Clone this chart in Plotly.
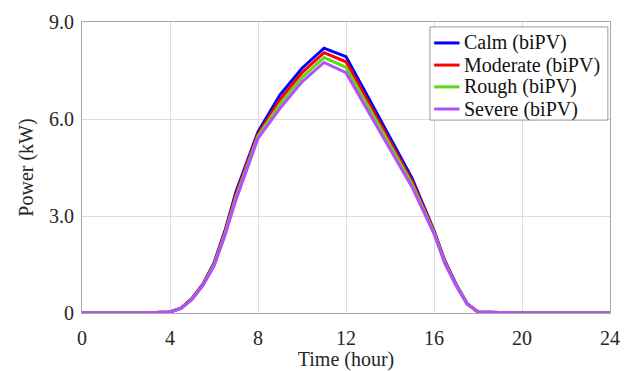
import plotly.graph_objects as go

time_h = [0, 1, 2, 3, 4, 4.5, 5, 5.5, 6, 6.5, 7, 8, 9, 10, 11, 12, 13, 14, 15, 16, 16.5, 17, 17.5, 18, 19, 20, 21, 22, 23, 24]

calm     = [0, 0, 0, 0.01, 0.03, 0.15, 0.45, 0.9, 1.55, 2.55, 3.75, 5.6, 6.75, 7.57, 8.19, 7.93, 6.68, 5.42, 4.17, 2.55, 1.6, 0.9, 0.3, 0.03, 0.01, 0, 0, 0, 0, 0]
moderate = [0, 0, 0, 0.01, 0.03, 0.15, 0.44, 0.88, 1.52, 2.5, 3.67, 5.53, 6.6, 7.43, 8.05, 7.77, 6.54, 5.31, 4.08, 2.52, 1.57, 0.88, 0.29, 0.03, 0.01, 0, 0, 0, 0, 0]
rough    = [0, 0, 0, 0.01, 0.03, 0.14, 0.43, 0.87, 1.49, 2.45, 3.59, 5.47, 6.47, 7.29, 7.9, 7.6, 6.4, 5.2, 3.99, 2.49, 1.55, 0.87, 0.29, 0.03, 0.01, 0, 0, 0, 0, 0]
severe   = [0, 0, 0, 0.01, 0.03, 0.14, 0.42, 0.85, 1.45, 2.4, 3.5, 5.4, 6.33, 7.15, 7.75, 7.43, 6.25, 5.08, 3.9, 2.45, 1.52, 0.85, 0.28, 0.03, 0.01, 0, 0, 0, 0, 0]

series_names = ["Calm (biPV)", "Moderate (biPV)", "Rough (biPV)", "Severe (biPV)"]
series_vals = [calm, moderate, rough, severe]
colors = ["#0000FF", "#FF0000", "#62D814", "#B64DFF"]

x_ticks = [0, 4, 8, 12, 16, 20, 24]
y_ticks = [0, 3, 6, 9]
y_ticklabels = ["0", "3.0", "6.0", "9.0"]

font_family = "Liberation Serif, Times New Roman, serif"
text_color = "#262626"

fig = go.Figure()
for name, vals, c in zip(series_names, series_vals, colors):
    fig.add_trace(go.Scatter(x=time_h, y=vals, mode="lines", name=name,
                             line=dict(color=c, width=3), showlegend=False))

# Legend drawn as box + line samples + text (paper coordinates)
shapes = [dict(type="rect", xref="paper", yref="paper", x0=0.659, x1=0.996, y0=0.663, y1=0.983,
               line=dict(color="#999999", width=1), fillcolor="white", layer="above")]
annotations = []
row_y = [0.928, 0.852, 0.777, 0.701]
for name, c, yy in zip(series_names, colors, row_y):
    shapes.append(dict(type="line", xref="paper", yref="paper", x0=0.667, x1=0.715, y0=yy, y1=yy,
                       line=dict(color=c, width=3), layer="above"))
    annotations.append(dict(xref="paper", yref="paper", x=0.719, y=yy, xanchor="left", yanchor="middle",
                            text=name, showarrow=False,
                            font=dict(family=font_family, size=20, color="#111111")))

fig.update_layout(
    width=622, height=363,
    margin=dict(l=74, r=20, t=14, b=58),
    paper_bgcolor="white", plot_bgcolor="white",
    font=dict(family=font_family, size=20, color=text_color),
    showlegend=False,
    shapes=shapes,
    annotations=annotations,
    xaxis=dict(range=[0, 24], tickvals=x_ticks, showgrid=True, gridcolor="#dcdcdc",
               showline=True, linecolor="#a8a8a8", mirror=True, zeroline=False,
               ticks="outside", ticklen=7, tickcolor="rgba(0,0,0,0)", tickfont=dict(size=20),
               automargin=False,
               title=dict(text="Time (hour)", font=dict(size=20), standoff=4)),
    yaxis=dict(range=[0, 9], tickvals=y_ticks, ticktext=y_ticklabels, showgrid=True,
               gridcolor="#dcdcdc", showline=True, linecolor="#a8a8a8", mirror=True,
               zeroline=False, ticks="outside", ticklen=3, tickcolor="rgba(0,0,0,0)",
               tickfont=dict(size=20), automargin=False,
               title=dict(text="Power (kW)", font=dict(size=20), standoff=10)),
)

fig.write_html("out.html")
